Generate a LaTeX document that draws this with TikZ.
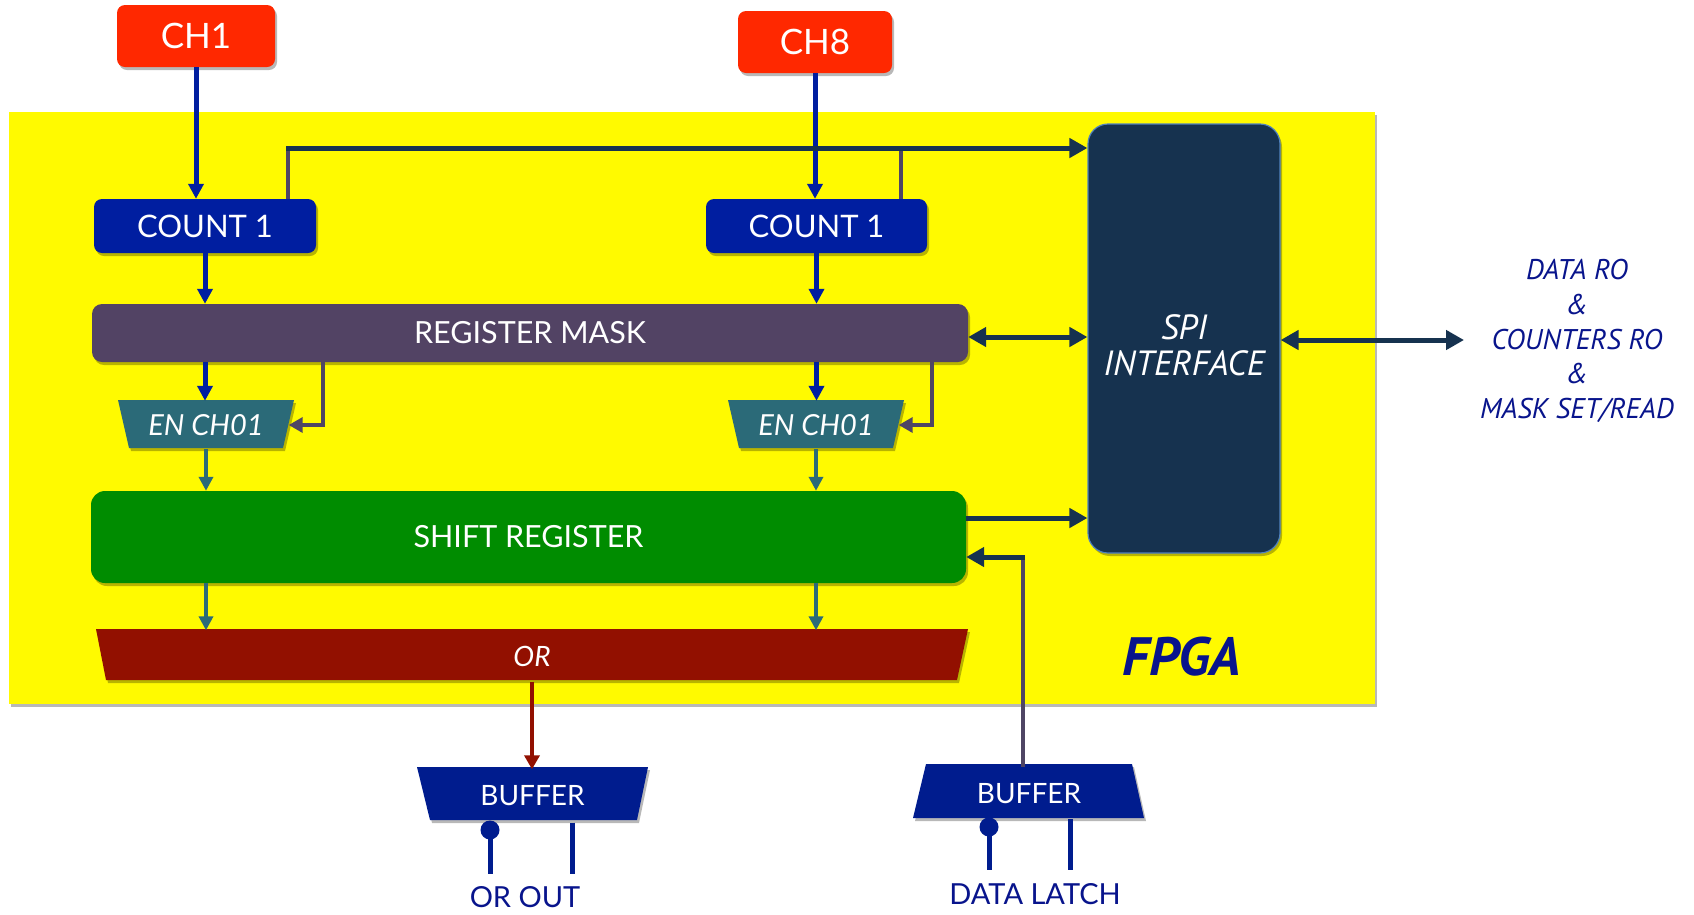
\documentclass[tikz,border=0pt]{standalone}
\usepackage{fontspec}
\setmainfont{Lato}
\newfontfamily\ptsans{PT Sans}
\usetikzlibrary{arrows.meta,shadows,calc}
\definecolor{fpgayel}{RGB}{255,250,0}
\definecolor{chred}{RGB}{255,40,0}
\definecolor{cntblue}{RGB}{0,30,160}
\definecolor{regpurp}{RGB}{82,67,100}
\definecolor{enteal}{RGB}{43,106,120}
\definecolor{srgreen}{RGB}{0,140,0}
\definecolor{ordred}{RGB}{146,16,0}
\definecolor{bufblue}{RGB}{0,28,142}
\definecolor{spinavy}{RGB}{22,50,79}
\definecolor{spiedge}{RGB}{79,129,189}
\definecolor{linpurp}{RGB}{79,69,100}
\definecolor{txtnavy}{RGB}{8,20,140}
\tikzset{
  shad/.style={drop shadow={shadow xshift=2pt,shadow yshift=-3pt,opacity=.28,fill=black}},
  boxbase/.style={inner sep=0pt,text=white,shad},
  chbox/.style={boxbase,fill=chred,rounded corners=8pt,minimum width=158pt,minimum height=62pt,font=\fontsize{35}{40}\selectfont},
  cntbox/.style={boxbase,fill=cntblue,rounded corners=8pt,minimum width=222pt,minimum height=54pt,font=\fontsize{31}{36}\selectfont},
  widebox/.style={boxbase,rounded corners=12pt,font=\fontsize{30.5}{36}\selectfont},
  trapetext/.style={inner sep=0pt,text=white},
  polyshadow/.style={fill=black,opacity=.28,shift={(2,3)}},
  arB/.style={draw=cntblue,line width=5pt,-{Triangle[length=15pt,width=15pt]}},
  arT/.style={draw=enteal,line width=4.5pt,-{Triangle[length=14pt,width=14pt]}},
  arR/.style={draw=ordred,line width=4.5pt,-{Triangle[length=14pt,width=15pt]}},
  arP/.style={draw=linpurp,line width=4.5pt,-{Triangle[length=14pt,width=15pt]}},
  arN/.style={draw=spinavy,line width=5pt,-{Triangle[length=18pt,width=19pt]}},
  arNN/.style={draw=spinavy,line width=5pt,{Triangle[length=18pt,width=19pt]}-{Triangle[length=18pt,width=19pt]}},
  purp/.style={draw=linpurp,line width=4.5pt},
  pin/.style={draw=bufblue,line width=5pt},
  lbl/.style={inner sep=0pt,text=txtnavy,font=\fontsize{29}{34}\selectfont},
}
\begin{document}
\begin{tikzpicture}[x=1pt,y=-1pt]
\useasboundingbox (0,0) rectangle (1694,914);
% FPGA area
\fill[fpgayel,shad] (8.6,112) rectangle (1375,704);
\node[inner sep=0pt,text=txtnavy,font=\ptsans\bfseries\itshape\fontsize{54}{58}\selectfont] (fpga) at (1182,657) {FPGA};

% trapezoid shapes
\foreach \p in {{(118,400) -- (294,400) -- (283,448) -- (129,448)},
                {(728,400) -- (904,400) -- (893,448) -- (739,448)},
                {(96,629) -- (968,629) -- (957,680) -- (106,680)},
                {(417,767) -- (648,767) -- (637,820) -- (430,820)},
                {(926,764) -- (1132,764) -- (1144,818) -- (913,818)}}
  {\fill[polyshadow] \p -- cycle;}
\fill[enteal] (118,400) -- (294,400) -- (283,448) -- (129,448) -- cycle;
\fill[enteal] (728,400) -- (904,400) -- (893,448) -- (739,448) -- cycle;
\fill[ordred] (96,629) -- (968,629) -- (957,680) -- (106,680) -- cycle;
\fill[bufblue] (417,767) -- (648,767) -- (637,820) -- (430,820) -- cycle;
\fill[bufblue] (926,764) -- (1132,764) -- (1144,818) -- (913,818) -- cycle;

% boxes
\node[chbox] (ch1) at (196,36) {CH1};
\node[chbox,minimum width=154pt] (ch8) at (815,42) {CH8};
\node[cntbox] (cnt1) at (205,226) {COUNT 1};
\node[cntbox,minimum width=221pt] (cnt8) at (816.5,226) {COUNT 1};
\node[widebox,fill=regpurp,rounded corners=10pt,minimum width=876pt,minimum height=58pt] (reg) at (530,333) {REGISTER MASK};
\node[widebox,fill=srgreen,rounded corners=14pt,minimum width=875pt,minimum height=92pt] (shift) at (528.5,537) {SHIFT REGISTER};
\node[boxbase,fill=spinavy,draw=spiedge,line width=1.2pt,rounded corners=20pt,minimum width=192pt,minimum height=429pt,align=center,
      font=\ptsans\itshape\fontsize{35}{38}\selectfont] (spi) at (1184,338.5) {\raisebox{-18pt}[0pt][0pt]{\begin{tabular}{@{}c@{}}SPI\\[-2pt]INTERFACE\end{tabular}}};

% trapezoid texts
\node[trapetext,minimum width=165pt,minimum height=48pt,font=\itshape\fontsize{29}{34}\selectfont] (en1) at (206,425) {EN CH01};
\node[trapetext,minimum width=165pt,minimum height=48pt,font=\itshape\fontsize{29}{34}\selectfont] (en8) at (816,425) {EN CH01};
\node[trapetext,minimum width=862pt,minimum height=51pt,font=\itshape\fontsize{28}{32}\selectfont] (orgate) at (532,656) {OR};
\node[trapetext,minimum width=219pt,minimum height=53pt,font=\fontsize{28}{32}\selectfont] (buf1) at (532.5,796) {BUFFER};
\node[trapetext,minimum width=206pt,minimum height=54pt,font=\fontsize{28}{32}\selectfont] (buf2) at (1029,794) {BUFFER};

% right label
\node[inner sep=0pt,text=txtnavy,align=center,font=\ptsans\itshape\fontsize{28.5}{34.8}\selectfont] (io) at (1577,341)
  {DATA RO\\\&\\COUNTERS RO\\\&\\MASK SET/READ};

% channel inputs
\draw[arB] (ch1.south) -- (ch1.south |- cnt1.north);
\draw[arB] (ch8.south) -- (ch8.south |- cnt8.north);

% counters to SPI
\coordinate (tl) at (288,148);
\coordinate (tr) at (901,148);
\draw[purp] (tl |- cnt1.north) -- (tl);
\draw[purp] (tr |- cnt8.north) -- (tr);
\draw[arN] ($(tl)+(-2,0)$) -- (tl -| spi.west);

% columns
\draw[arB] (cnt1.south) -- (cnt1.south |- reg.north);
\draw[arB] (cnt8.south) -- (cnt8.south |- reg.north);
\draw[arB] (cnt1.south |- reg.south) -- (cnt1.south |- en1.north);
\draw[arB] (cnt8.south |- reg.south) -- (cnt8.south |- en8.north);
\draw[arT] (en1.south) -- (en1.south |- shift.north);
\draw[arT] (en8.south) -- (en8.south |- shift.north);
\draw[arT] (en1.south |- shift.south) -- (en1.south |- orgate.north);
\draw[arT] (en8.south |- shift.south) -- (en8.south |- orgate.north);

% mask to enables
\coordinate (m1) at (323,0);
\coordinate (m8) at (932,0);
\draw[arP] (m1 |- reg.south) |- (en1.east);
\draw[arP] (m8 |- reg.south) |- (en8.east);

% register mask <-> SPI
\coordinate (rm) at ($(reg.east)+(0,4)$);
\draw[arNN] (rm) -- (rm -| spi.west);

% shift register -> SPI
\coordinate (se) at ($(shift.east)+(0,-19)$);
\draw[arN] (se) -- (se -| spi.west);

% data latch -> shift register
\coordinate (dl) at (1023,557);
\draw[purp] (dl |- buf2.north) -- (dl);
\draw[arN] ($(dl)+(2,0)$) -- (dl -| shift.east);

% OR -> buffer
\draw[arR] (orgate.south) -- (orgate.south |- buf1.north);

% SPI <-> outside
\coordinate (ioend) at (1464,340);
\draw[arNN] (spi.east |- ioend) -- (ioend);

% buffer pins
\coordinate (p1) at (490,830);
\coordinate (p1e) at (490,874);
\coordinate (q1) at (572,874);
\fill[bufblue] (p1) circle[radius=9.5pt];
\draw[pin] (p1) -- (p1e);
\draw[pin] (q1 |- buf1.south) -- (q1);
\coordinate (p2) at (989,827);
\coordinate (p2e) at (989,870);
\coordinate (q2) at (1070,870);
\fill[bufblue] (p2) circle[radius=9.5pt];
\draw[pin] (p2) -- (p2e);
\draw[pin] ($(q2 |- buf2.south)+(0,-2)$) -- (q2);

% bottom labels
\node[lbl] (orout) at (525,897) {OR OUT};
\node[lbl] (dlatch) at (1035,894) {DATA LATCH};
\end{tikzpicture}
\end{document}
